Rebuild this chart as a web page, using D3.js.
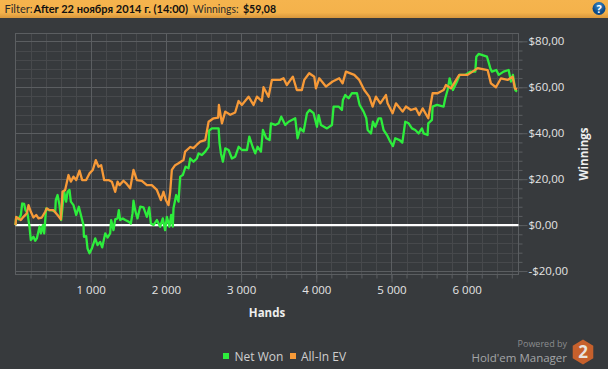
<!DOCTYPE html>
<html><head><meta charset="utf-8">
<script src="https://cdn.jsdelivr.net/npm/d3@7"></script>
<style>html,body{margin:0;padding:0;background:#373a3d;overflow:hidden}svg{display:block;font-family:"Open Sans","Noto Sans",sans-serif}</style>
</head><body><div id="c"></div>
<script>
const seriesNames = ["Net Won", "All-In EV"];
const xTicks = [1000,2000,3000,4000,5000,6000];
const yTicks = [-20,0,20,40,60,80];
const netWon = [[0,0],[9,3.3],[40,2.5],[71,4.4],[89,9.4],[115,9.2],[133,6.5],[160,5.1],[186,-0.7],[204,-6.5],[239,-5.1],[262,-6.8],[284,-5.8],[319,-0.7],[337,-3.6],[364,0],[381,-3.6],[395,2.2],[408,7.3],[439,6.5],[483,6.5],[528,5.8],[536,10.9],[559,13.1],[585,8.7],[607,2.2],[630,9.4],[647,14.5],[674,10.2],[692,14.5],[718,15.3],[736,10.2],[771,8.7],[807,4.4],[842,8],[878,3.3],[904,0],[910,-5.1],[940,-4.8],[958,-10.2],[984,-12.3],[1015,-10.2],[1060,-5.8],[1091,-8.7],[1126,-7.3],[1153,-9.7],[1193,-3.6],[1224,-5.4],[1259,-3.6],[1272,2.2],[1303,-2.2],[1326,2.5],[1357,2.9],[1374,6.5],[1392,2.2],[1427,2.9],[1459,2.2],[1503,1.5],[1534,0.7],[1556,5.1],[1569,10.6],[1591,6.5],[1622,2.9],[1658,8],[1702,7.7],[1747,3.6],[1778,7.7],[1800,0.7],[1835,0],[1880,2.2],[1924,-0.7],[1959,2.9],[1990,-2.2],[2013,3.6],[2048,-0.7],[2070,4.4],[2092,-0.7],[2101,7.3],[2137,13.1],[2168,10.2],[2190,21.1],[2225,21.8],[2261,25.4],[2301,24.7],[2323,29],[2367,27.6],[2412,29],[2435,31.2],[2479,30.5],[2523,32],[2568,34.1],[2575,41.1],[2612,42.1],[2701,42.1],[2714,35.6],[2732,31.2],[2758,27.6],[2789,33.4],[2834,32.7],[2878,29],[2922,29.8],[2967,34.1],[3011,32.7],[3078,32.7],[3109,38.5],[3153,34.1],[3188,31.2],[3219,34.1],[3264,32],[3290,41.4],[3335,37.8],[3379,37],[3397,44.3],[3454,43.6],[3499,44.3],[3534,47.2],[3587,43.6],[3632,45],[3720,46.5],[3751,37.8],[3787,42.1],[3831,40.7],[3876,48.7],[3911,50.1],[3964,48.7],[4009,42.8],[4031,47.9],[4062,43.6],[4142,42.1],[4208,43.6],[4230,51.6],[4297,51.6],[4341,50.1],[4354,54.5],[4385,56.6],[4430,55.2],[4474,57.4],[4541,57.4],[4576,52.3],[4629,49.4],[4665,46.5],[4683,41.4],[4727,39.9],[4753,45],[4784,42.8],[4829,46.5],[4860,46.5],[4895,41.4],[4940,39.2],[4984,36.3],[5019,34.4],[5050,37.8],[5108,37],[5144,35.9],[5183,45],[5228,44.3],[5272,42.1],[5316,41.4],[5361,39.9],[5405,42.1],[5427,39.9],[5480,39.2],[5489,44.3],[5538,45.8],[5547,51.6],[5605,52.3],[5693,51.6],[5715,55.2],[5746,58.8],[5773,63.9],[5817,58.8],[5871,62.5],[5906,65.4],[5981,65.4],[6048,66.8],[6114,66.8],[6128,73.3],[6159,74.5],[6270,73.3],[6314,68.3],[6336,66.8],[6394,67.5],[6425,65.4],[6491,66.8],[6558,67.5],[6589,62.5],[6615,65.4],[6646,58.8],[6670,58.1]];
const allInEV = [[0,0],[9,3.6],[40,2.9],[71,2.2],[106,3.6],[151,5.1],[173,8.7],[204,5.8],[239,3.3],[275,4.4],[306,2.9],[350,3.3],[395,5.8],[417,7.3],[452,6.5],[505,6.5],[559,4.4],[603,2.5],[625,14.5],[660,15.3],[705,21.8],[736,18.9],[771,21.1],[807,19.6],[851,23.7],[887,19.6],[940,19.6],[984,22.5],[1028,24],[1068,28.3],[1104,25.4],[1139,26.1],[1179,19.6],[1237,19.6],[1281,18.9],[1326,14.5],[1357,18.9],[1383,17.4],[1436,19.3],[1472,18.2],[1525,16],[1569,24],[1614,19.6],[1680,19.3],[1747,17.4],[1813,17.4],[1880,15.3],[1933,10.9],[1968,14.5],[1999,10.9],[2035,8.7],[2057,14.5],[2079,24],[2123,26.1],[2168,26.9],[2234,28.3],[2256,32],[2323,34],[2367,33.5],[2412,35],[2457,36.3],[2523,37],[2568,45],[2634,46.5],[2695,46.8],[2705,52.3],[2745,44.3],[2789,49.4],[2856,48],[2921,49],[2966,54],[3010,52.3],[3099,55.9],[3165,52.3],[3210,55.9],[3276,54],[3298,60],[3365,55.9],[3409,63.2],[3520,63.2],[3564,63.9],[3608,61],[3688,64.6],[3741,58.8],[3808,58.8],[3840,63.2],[3906,66.1],[3973,64.6],[3995,59.5],[4039,63.9],[4128,60.3],[4217,62.5],[4305,63.9],[4350,61.7],[4394,66.8],[4505,65.4],[4571,63.2],[4638,58.8],[4704,55.9],[4749,51.6],[4793,55.9],[4851,53],[4926,56.6],[4948,53],[5015,48.7],[5059,53],[5148,49.4],[5192,51.6],[5259,50.1],[5325,50.8],[5369,47.9],[5414,50.8],[5489,46.5],[5547,57.4],[5613,57.4],[5693,58.8],[5724,61],[5791,59.5],[5901,65.4],[6012,65.4],[6078,66.8],[6145,68.3],[6278,67.5],[6322,61.7],[6389,60],[6456,63.9],[6544,63.2],[6611,64.6],[6642,59.5],[6670,59.1]];

const W = 608, H = 369;
const svg = d3.select("#c").append("svg").attr("width",W).attr("height",H);
const defs = svg.append("defs");
const g = defs.append("linearGradient").attr("id","hdr").attr("x1",0).attr("x2",0).attr("y1",0).attr("y2",1);
g.append("stop").attr("offset","0").attr("stop-color","#f5b44e");
g.append("stop").attr("offset","0.7").attr("stop-color","#f4b24b");
g.append("stop").attr("offset","1").attr("stop-color","#d8973c");
const bl = defs.append("radialGradient").attr("id","help").attr("cy","0.3");
bl.append("stop").attr("offset","0").attr("stop-color","#3a8fd0");
bl.append("stop").attr("offset","1").attr("stop-color","#0d4a86");

svg.append("rect").attr("width",W).attr("height",H).attr("fill","#373a3d");
svg.append("rect").attr("width",W).attr("height",18).attr("fill","url(#hdr)");
const hdrItems = [
  {t:"Filter:",x:4.5,b:0,w:28},
  {t:"After 22 ноября 2014 г. (14:00)",x:33.5,b:1,w:154.5},
  {t:"Winnings:",x:193,b:0,w:45.5},
  {t:"$59,08",x:243,b:1,w:33}
];
svg.append("g").selectAll("text").data(hdrItems).join("text")
  .attr("x",d=>d.x).attr("y",13).attr("font-size",11.5).attr("font-family","Lato,'Open Sans',sans-serif")
  .attr("font-weight",d=>d.b?700:400).attr("fill",d=>d.b?"#111":"#2a2a2a")
  .attr("textLength",d=>d.w).attr("lengthAdjust","spacingAndGlyphs").text(d=>d.t);
svg.append("circle").attr("cx",599).attr("cy",8.5).attr("r",6.5).attr("fill","url(#help)");
svg.append("text").attr("x",599).attr("y",12.5).attr("text-anchor","middle").attr("font-size",11).attr("font-weight","700").attr("fill","#fff").text("?");

const x = d3.scaleLinear().domain([0,6689]).range([15.5,518.5]);
const y = d3.scaleLinear().domain([-21.5,83.4]).range([274.5,33.5]);
const minorX = d3.range(200,6689,200), minorY = d3.range(-20,84,4);
const MINOR="#47494c", MAJOR="#5b5e61";

const yg = svg.append("g").attr("transform",`translate(${x.range()[1]},0)`);
yg.call(d3.axisRight(y).tickValues(minorY).tickSize(4).tickFormat(""));
yg.selectAll("path").remove();
yg.selectAll("line").attr("stroke",MAJOR);
const xg = svg.append("g").attr("transform",`translate(0,${y.range()[0]})`);
xg.call(d3.axisBottom(x).tickValues(minorX).tickSize(4).tickFormat(""));
xg.selectAll("path").remove();
xg.selectAll("line").attr("stroke",MAJOR);

svg.append("g").selectAll("line").data(minorX).join("line").attr("x1",d=>Math.round(x(d))+.5).attr("x2",d=>Math.round(x(d))+.5).attr("y1",y.range()[1]).attr("y2",y.range()[0]).attr("stroke",MINOR);
svg.append("g").selectAll("line").data(minorY).join("line").attr("y1",d=>Math.round(y(d))+.5).attr("y2",d=>Math.round(y(d))+.5).attr("x1",x.range()[0]).attr("x2",x.range()[1]).attr("stroke",MINOR);
svg.append("g").selectAll("line").data(xTicks).join("line").attr("x1",d=>Math.round(x(d))+.5).attr("x2",d=>Math.round(x(d))+.5).attr("y1",y.range()[1]).attr("y2",y.range()[0]).attr("stroke",MAJOR);
svg.append("g").selectAll("line").data(yTicks).join("line").attr("y1",d=>Math.round(y(d))+.5).attr("y2",d=>Math.round(y(d))+.5).attr("x1",x.range()[0]).attr("x2",x.range()[1]).attr("stroke",MAJOR);
svg.append("rect").attr("x",x.range()[0]).attr("y",y.range()[1]).attr("width",x.range()[1]-x.range()[0]).attr("height",y.range()[0]-y.range()[1]).attr("fill","none").attr("stroke",MAJOR);

const fmtX = d => String(d).replace(/\B(?=(\d{3})+$)/g," ");
const fmtY = d => (d<0?"-":"")+"$"+Math.abs(d)+",00";
const ax = svg.append("g").attr("transform",`translate(0,${y.range()[0]})`).call(d3.axisBottom(x).tickValues(xTicks).tickSize(8).tickPadding(3).tickFormat(fmtX));
ax.select("path").remove(); ax.selectAll("line").attr("stroke",MAJOR);
ax.selectAll("text").attr("fill","#e4e4e4").attr("font-size",11.5).attr("font-family","'Open Sans'");
const ay = svg.append("g").attr("transform",`translate(${x.range()[1]},0)`).call(d3.axisRight(y).tickValues(yTicks).tickSize(9).tickPadding(1).tickFormat(fmtY));
ay.select("path").remove(); ay.selectAll("line").attr("stroke",MAJOR);
ay.selectAll("text").attr("fill","#e4e4e4").attr("font-size",11.5).attr("font-family","'Open Sans'");

svg.append("line").attr("x1",x.range()[0]).attr("x2",x.range()[1]).attr("y1",y(0)).attr("y2",y(0)).attr("stroke","#fff").attr("stroke-width",2.4);

const line = d3.line().x(d=>x(d[0])).y(d=>y(d[1]));
const colors = ["#2ded3c","#f79a38"];
svg.append("path").attr("d",line(netWon)).attr("fill","none").attr("stroke",colors[0]).attr("stroke-width",2.3).attr("stroke-linejoin","round");
svg.append("path").attr("d",line(allInEV)).attr("fill","none").attr("stroke",colors[1]).attr("stroke-width",2.3).attr("stroke-linejoin","round");

svg.append("text").attr("x",267).attr("y",317).attr("text-anchor","middle").attr("font-size",11.5).attr("font-weight","700").attr("fill","#eee").text("Hands");
svg.append("text").attr("transform","translate(588,154) rotate(-90)").attr("text-anchor","middle").attr("font-size",11.5).attr("font-weight","700").attr("fill","#eee").text("Winnings");

const lx=[223,290], tx=[234.5,301];
seriesNames.forEach((n,i)=>{
  svg.append("rect").attr("x",lx[i]).attr("y",353).attr("width",6).attr("height",6).attr("fill",colors[i]);
  svg.append("text").attr("x",tx[i]).attr("y",360.5).attr("font-size",12).attr("fill","#cfcfcf").text(n);
});
svg.append("text").attr("x",567).attr("y",347).attr("text-anchor","end").attr("font-size",9).attr("fill","#8a8c8e").text("Powered by");
svg.append("text").attr("x",567).attr("y",361.5).attr("text-anchor","end").attr("font-size",11.5).attr("fill","#a4a6a8").text("Hold'em Manager");
const hex = d3.range(6).map(i=>{const a=Math.PI/3*i-Math.PI/2;return [583+12.5*Math.cos(a)*.95,352+12.5*Math.sin(a)]});
svg.append("polygon").attr("points",hex.map(p=>p.join(",")).join(" ")).attr("fill","#c6602c");
svg.append("text").attr("x",583).attr("y",358).attr("text-anchor","middle").attr("font-size",17).attr("font-weight","700").attr("fill","#e8e3df").text("2");
</script></body></html>
